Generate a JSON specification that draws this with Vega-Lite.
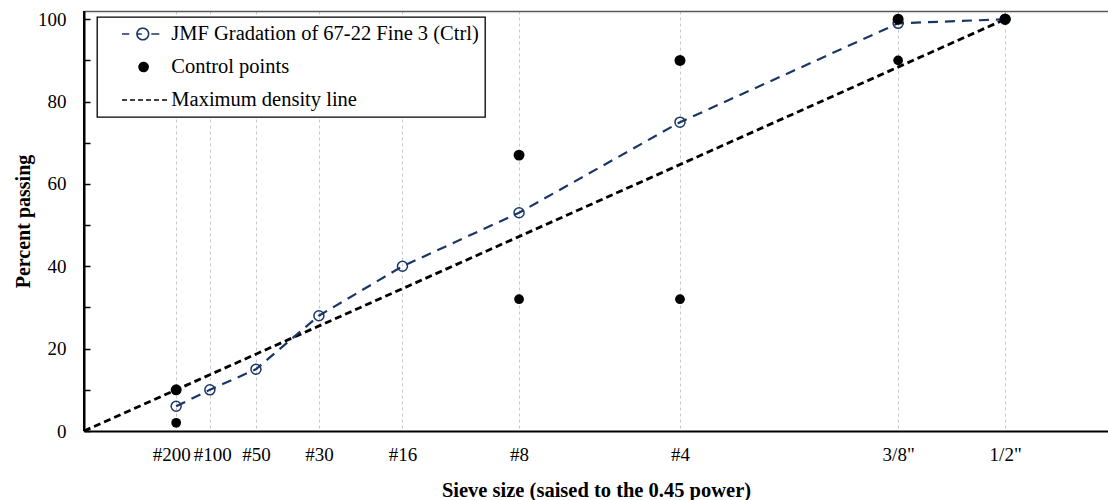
{
  "$schema": "https://vega.github.io/schema/vega-lite/v6.json",
  "width": 1024,
  "height": 420,
  "autosize": {"type": "none"},
  "padding": {"left": 84, "top": 11, "right": 0, "bottom": 69},
  "background": "white",
  "config": {"view": {"stroke": null}, "font": "Liberation Serif", "legend": {"strokeWidth": 1.3}},
  "datasets": {
    "mdl": [
      {"series": "Maximum density line", "x": 0, "pct": 0},
      {"series": "Maximum density line", "x": 3.116, "pct": 100}
    ],
    "jmf": [
      {"series": "JMF Gradation of 67-22 Fine 3 (Ctrl)", "sieve": "#200", "x": 0.3118, "pct": 6},
      {"series": "JMF Gradation of 67-22 Fine 3 (Ctrl)", "sieve": "#100", "x": 0.4258, "pct": 10},
      {"series": "JMF Gradation of 67-22 Fine 3 (Ctrl)", "sieve": "#50", "x": 0.5817, "pct": 15},
      {"series": "JMF Gradation of 67-22 Fine 3 (Ctrl)", "sieve": "#30", "x": 0.7946, "pct": 28},
      {"series": "JMF Gradation of 67-22 Fine 3 (Ctrl)", "sieve": "#16", "x": 1.0773, "pct": 40},
      {"series": "JMF Gradation of 67-22 Fine 3 (Ctrl)", "sieve": "#8", "x": 1.4717, "pct": 53},
      {"series": "JMF Gradation of 67-22 Fine 3 (Ctrl)", "sieve": "#4", "x": 2.0161, "pct": 75},
      {"series": "JMF Gradation of 67-22 Fine 3 (Ctrl)", "sieve": "3/8\"", "x": 2.754, "pct": 99},
      {"series": "JMF Gradation of 67-22 Fine 3 (Ctrl)", "sieve": "1/2\"", "x": 3.116, "pct": 100}
    ],
    "ctrl": [
      {"series": "Control points", "sieve": "#200", "x": 0.3118, "pct": 2, "limit": "lower"},
      {"series": "Control points", "sieve": "#200", "x": 0.3118, "pct": 10, "limit": "upper"},
      {"series": "Control points", "sieve": "#8", "x": 1.4717, "pct": 32, "limit": "lower"},
      {"series": "Control points", "sieve": "#8", "x": 1.4717, "pct": 67, "limit": "upper"},
      {"series": "Control points", "sieve": "#4", "x": 2.0161, "pct": 32, "limit": "lower"},
      {"series": "Control points", "sieve": "#4", "x": 2.0161, "pct": 90, "limit": "upper"},
      {"series": "Control points", "sieve": "3/8\"", "x": 2.754, "pct": 90, "limit": "lower"},
      {"series": "Control points", "sieve": "3/8\"", "x": 2.754, "pct": 100, "limit": "upper"},
      {"series": "Control points", "sieve": "1/2\"", "x": 3.116, "pct": 100, "limit": "upper"}
    ]
  },
  "resolve": {"axis": {"x": "independent", "y": "shared"}},
  "layer": [
    {
      "data": {"name": "mdl"},
      "mark": {"type": "line", "strokeDash": [7, 4], "strokeWidth": 2.8},
      "encoding": {
        "x": {
          "field": "x", "type": "quantitative",
          "scale": {"domain": [0, 3.464], "nice": false, "zero": false},
          "axis": {
            "orient": "bottom",
            "values": [0.3118, 0.4258, 0.5817, 0.7946, 1.0773, 1.4717, 2.0161, 2.754, 3.116],
            "labelExpr": "datum.value < 0.35 ? '#200' : datum.value < 0.5 ? '#100' : datum.value < 0.7 ? '#50' : datum.value < 0.9 ? '#30' : datum.value < 1.2 ? '#16' : datum.value < 1.6 ? '#8' : datum.value < 2.2 ? '#4' : datum.value < 2.9 ? '3/8\"' : '1/2\"'",
            "labelOffset": {"condition": [{"test": "datum.value < 0.35", "value": -5}, {"test": "datum.value < 0.5", "value": 2.5}], "value": 0},
            "title": "Sieve size (saised to the 0.45 power)",
            "titleFont": "Liberation Serif", "titleFontSize": 20.5, "titleFontWeight": "bold", "titleColor": "black", "titlePadding": 16,
            "labelFont": "Liberation Serif", "labelFontSize": 19, "labelColor": "black", "labelPadding": 14,
            "labelOverlap": false, "labelFlush": false, "ticks": false,
            "domainColor": "black", "domainWidth": 2,
            "grid": true, "gridColor": "#c8c8c8", "gridDash": [3, 3], "gridWidth": 1
          }
        },
        "y": {
          "field": "pct", "type": "quantitative",
          "scale": {"domain": [0, 102], "nice": false},
          "axis": {
            "orient": "left", "domain": true, "offset": 0,
            "values": [0, 10, 20, 30, 40, 50, 60, 70, 80, 90, 100],
            "labelExpr": "datum.value % 20 === 0 ? datum.label : ''",
            "title": "Percent passing",
            "titleFont": "Liberation Serif", "titleFontSize": 20, "titleFontWeight": "bold", "titleColor": "black", "titlePadding": 4,
            "labelFont": "Liberation Serif", "labelFontSize": 19, "labelColor": "black", "labelPadding": 24,
            "labelFlush": false, "labelOverlap": false,
            "tickSize": -6, "tickColor": "black", "tickWidth": 1.5,
            "domainColor": "black", "domainWidth": 2, "domainOpacity": 1, "grid": false
          }
        },
        "color": {
          "field": "series", "type": "nominal",
          "scale": {"domain": ["JMF Gradation of 67-22 Fine 3 (Ctrl)", "Control points", "Maximum density line"], "range": ["#1a3668", "#000000", "#000000"]},
          "legend": {
            "orient": "none", "legendX": 13, "legendY": 6, "title": null,
            "padding": 6, "strokeColor": "black", "fillColor": "white",
            "labelFont": "Liberation Serif", "labelFontSize": 20.5, "labelColor": "black",
            "labelLimit": 1000, "labelOffset": 17.5, "symbolOffset": 28.8,
            "symbolSize": 400, "symbolStrokeWidth": 1.6, "rowPadding": 11,
            "encode": {
              "symbols": {
                "update": {
                  "shape": [
                    {"test": "datum.value === 'Control points'", "value": "M0.53,0A0.45,0.45 0 1,1 -0.37,0A0.45,0.45 0 1,1 0.53,0Z"},
                    {"test": "datum.value === 'Maximum density line'", "value": "M-2.08,0L2.48,0"},
                    {"value": "M-2.08,0L-1.35,0M-0.58,0L-0.1,0M0.58,0A0.58,0.58 0 1,1 -0.58,0A0.58,0.58 0 1,1 0.58,0A0.58,0.58 0 1,0 -0.58,0A0.58,0.58 0 1,0 0.58,0M0.85,0L1.65,0"}
                  ],
                  "strokeDash": [{"test": "datum.value === 'Maximum density line'", "value": [5, 3]}, {"value": [1, 0]}],
                  "opacity": {"value": 1}
                }
              }
            }
          }
        }
      }
    },
    {
      "data": {"name": "jmf"},
      "mark": {"type": "line", "strokeDash": [10, 7], "strokeWidth": 2.2},
      "encoding": {
        "x": {
          "field": "x", "type": "quantitative",
          "scale": {"domain": [0, 3.464], "nice": false, "zero": false},
          "axis": {"orient": "top", "labels": false, "ticks": false, "grid": false, "title": null, "domainColor": "#595959", "domainWidth": 1.5}
        },
        "y": {
          "field": "pct", "type": "quantitative",
          "scale": {"domain": [0, 102], "nice": false},
          "axis": {
            "orient": "left", "domain": true, "offset": 0,
            "values": [0, 10, 20, 30, 40, 50, 60, 70, 80, 90, 100],
            "labelExpr": "datum.value % 20 === 0 ? datum.label : ''",
            "title": "Percent passing",
            "titleFont": "Liberation Serif", "titleFontSize": 20, "titleFontWeight": "bold", "titleColor": "black", "titlePadding": 4,
            "labelFont": "Liberation Serif", "labelFontSize": 19, "labelColor": "black", "labelPadding": 24,
            "labelFlush": false, "labelOverlap": false,
            "tickSize": -6, "tickColor": "black", "tickWidth": 1.5,
            "domainColor": "black", "domainWidth": 2, "domainOpacity": 1, "grid": false
          }
        },
        "color": {
          "field": "series", "type": "nominal",
          "scale": {"domain": ["JMF Gradation of 67-22 Fine 3 (Ctrl)", "Control points", "Maximum density line"], "range": ["#1a3668", "#000000", "#000000"]},
          "legend": null
        }
      }
    },
    {
      "data": {"name": "jmf"},
      "mark": {"type": "point", "filled": false, "size": 100, "strokeWidth": 1.5, "opacity": 1},
      "encoding": {
        "x": {"field": "x", "type": "quantitative", "scale": {"domain": [0, 3.464], "nice": false, "zero": false}, "axis": null},
        "y": {
          "field": "pct", "type": "quantitative",
          "scale": {"domain": [0, 102], "nice": false},
          "axis": {
            "orient": "left", "domain": true, "offset": 0,
            "values": [0, 10, 20, 30, 40, 50, 60, 70, 80, 90, 100],
            "labelExpr": "datum.value % 20 === 0 ? datum.label : ''",
            "title": "Percent passing",
            "titleFont": "Liberation Serif", "titleFontSize": 20, "titleFontWeight": "bold", "titleColor": "black", "titlePadding": 4,
            "labelFont": "Liberation Serif", "labelFontSize": 19, "labelColor": "black", "labelPadding": 24,
            "labelFlush": false, "labelOverlap": false,
            "tickSize": -6, "tickColor": "black", "tickWidth": 1.5,
            "domainColor": "black", "domainWidth": 2, "domainOpacity": 1, "grid": false
          }
        },
        "color": {
          "field": "series", "type": "nominal",
          "scale": {"domain": ["JMF Gradation of 67-22 Fine 3 (Ctrl)", "Control points", "Maximum density line"], "range": ["#1a3668", "#000000", "#000000"]},
          "legend": null
        }
      }
    },
    {
      "data": {"name": "ctrl"},
      "mark": {"type": "point", "filled": true, "opacity": 1, "shape": "circle"},
      "encoding": {
        "x": {"field": "x", "type": "quantitative", "scale": {"domain": [0, 3.464], "nice": false, "zero": false}, "axis": null},
        "y": {
          "field": "pct", "type": "quantitative",
          "scale": {"domain": [0, 102], "nice": false},
          "axis": {
            "orient": "left", "domain": true, "offset": 0,
            "values": [0, 10, 20, 30, 40, 50, 60, 70, 80, 90, 100],
            "labelExpr": "datum.value % 20 === 0 ? datum.label : ''",
            "title": "Percent passing",
            "titleFont": "Liberation Serif", "titleFontSize": 20, "titleFontWeight": "bold", "titleColor": "black", "titlePadding": 4,
            "labelFont": "Liberation Serif", "labelFontSize": 19, "labelColor": "black", "labelPadding": 24,
            "labelFlush": false, "labelOverlap": false,
            "tickSize": -6, "tickColor": "black", "tickWidth": 1.5,
            "domainColor": "black", "domainWidth": 2, "domainOpacity": 1, "grid": false
          }
        },
        "size": {"field": "limit", "type": "nominal", "scale": {"domain": ["lower", "upper"], "range": [95, 120]}, "legend": null},
        "color": {
          "field": "series", "type": "nominal",
          "scale": {"domain": ["JMF Gradation of 67-22 Fine 3 (Ctrl)", "Control points", "Maximum density line"], "range": ["#1a3668", "#000000", "#000000"]},
          "legend": null
        }
      }
    },
    {
      "data": {"name": "mdl"},
      "mark": {"type": "rect", "color": "black", "opacity": 1},
      "encoding": {
        "x": {"datum": -0.0034, "type": "quantitative", "scale": {"domain": [0, 3.464], "nice": false, "zero": false}, "axis": null},
        "x2": {"datum": 0.0034},
        "y": {
          "datum": 0, "type": "quantitative",
          "scale": {"domain": [0, 102], "nice": false},
          "axis": {
            "orient": "left", "domain": true, "offset": 0,
            "values": [0, 10, 20, 30, 40, 50, 60, 70, 80, 90, 100],
            "labelExpr": "datum.value % 20 === 0 ? datum.label : ''",
            "title": "Percent passing",
            "titleFont": "Liberation Serif", "titleFontSize": 20, "titleFontWeight": "bold", "titleColor": "black", "titlePadding": 4,
            "labelFont": "Liberation Serif", "labelFontSize": 19, "labelColor": "black", "labelPadding": 24,
            "labelFlush": false, "labelOverlap": false,
            "tickSize": -6, "tickColor": "black", "tickWidth": 1.5,
            "domainColor": "black", "domainWidth": 2, "domainOpacity": 1, "grid": false
          }
        },
        "y2": {"datum": 102}
      }
    }
  ]
}
